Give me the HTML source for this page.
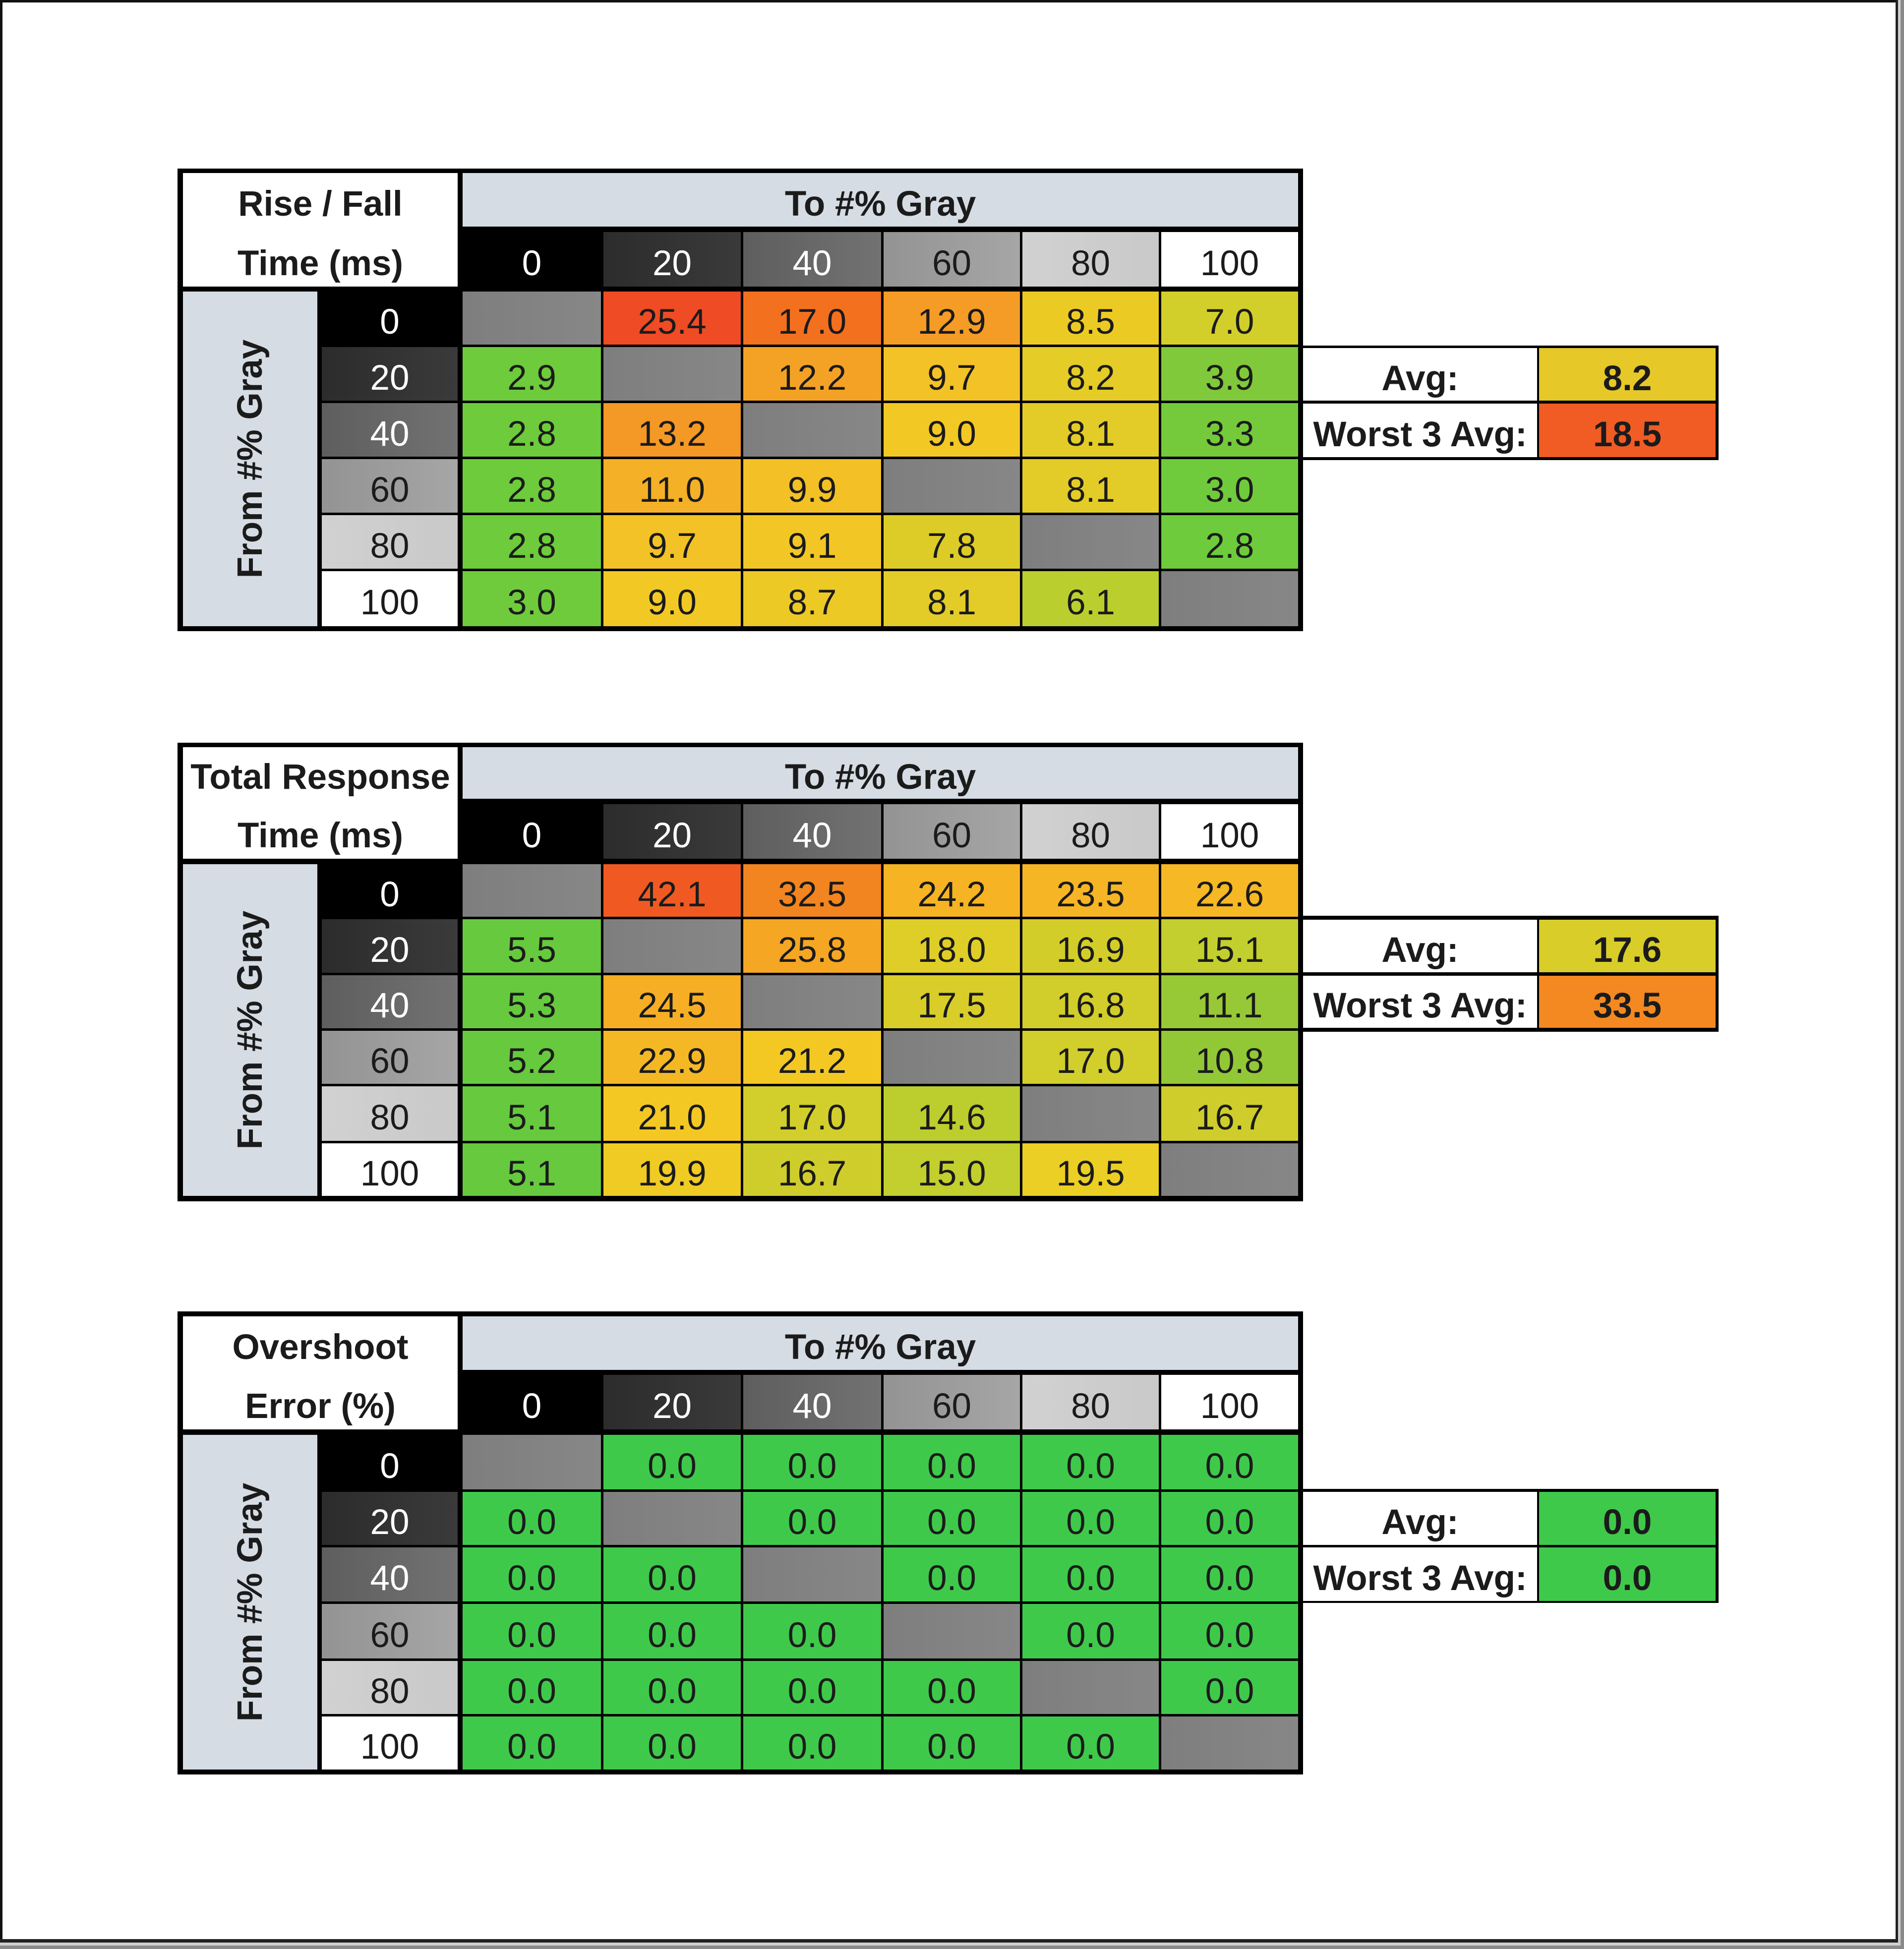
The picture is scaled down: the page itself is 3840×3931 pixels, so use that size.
<!DOCTYPE html>
<html><head><meta charset="utf-8">
<style>
html,body{margin:0;padding:0;}
body{width:3840px;height:3931px;position:relative;overflow:hidden;background:#fff;font-family:"Liberation Sans",Arial,sans-serif;}
.f{position:absolute;}
.t{position:absolute;left:358px;width:2270px;background:#000;}
.c{position:absolute;display:flex;align-items:center;justify-content:center;font-size:71px;color:#1b1b1b;padding-top:16px;box-sizing:border-box;white-space:nowrap;}
.b{font-weight:bold;}
.x0{left:575px;width:279px}.x1{left:859px;width:277px}.x2{left:1141px;width:278px}
.x3{left:1424px;width:275px}.x4{left:1704px;width:275px}.x5{left:1984px;width:276px}
.xl{left:11px;width:271px}.xn{left:291px;width:274px}.xh{left:11px;width:554px}.xt{left:575px;width:1685px}
.lb{background:#d6dce4;}
.wh{background:#fff;}
.k0{background:#000;color:#fff;}
.k20{background:linear-gradient(90deg,#2c2c2c,#3a3a3a);color:#fff;}
.k40{background:linear-gradient(90deg,#5e5e5e,#727272);color:#fff;}
.k60{background:linear-gradient(90deg,#939393,#a6a6a6);color:#1b1b1b;}
.k80{background:linear-gradient(90deg,#d1d1d1,#c9c9c9);color:#1b1b1b;}
.k100{background:#fff;color:#1b1b1b;}
.gr{background:linear-gradient(90deg,#7e7e7e,#878787);}
.vt{display:inline-block;transform:rotate(-90deg);font-weight:bold;font-size:71px;color:#1b1b1b;}
#t1{top:340px;height:933px}
#t1 .h1{top:9px;height:108px}#t1 .h2{top:128px;height:110px}#t1 .hl{top:9px;height:229px}
#t1 .r0{top:248px;height:107px}#t1 .r1{top:360px;height:108px}#t1 .r2{top:473px;height:108px}
#t1 .r3{top:586px;height:108px}#t1 .r4{top:699px;height:108px}#t1 .r5{top:812px;height:111px}
#t1 .rl{top:248px;height:675px}
#t2{top:1498px;height:925px}
#t2 .h1{top:9px;height:104px}#t2 .h2{top:124px;height:110px}#t2 .hl{top:9px;height:225px}
#t2 .r0{top:245px;height:106px}#t2 .r1{top:356px;height:108px}#t2 .r2{top:469px;height:107px}
#t2 .r3{top:581px;height:107px}#t2 .r4{top:693px;height:110px}#t2 .r5{top:808px;height:106px}
#t2 .rl{top:245px;height:669px}
#t3{top:2645px;height:934px}
#t3 .h1{top:10px;height:108px}#t3 .h2{top:128px;height:110px}#t3 .hl{top:10px;height:228px}
#t3 .r0{top:249px;height:110px}#t3 .r1{top:364px;height:107px}#t3 .r2{top:476px;height:109px}
#t3 .r3{top:590px;height:110px}#t3 .r4{top:705px;height:107px}#t3 .r5{top:817px;height:107px}
#t3 .rl{top:249px;height:675px}
.av{position:absolute;left:2618px;width:848px;background:#000;}
.al{left:10px;width:472px;}
.avv{left:486px;width:356px;}
.g3{background:#3fc94b;}
.lbl{padding-top:0;}
</style></head><body>

<!-- page frame -->
<div class="f" style="left:0;top:0;width:3828px;height:5px;background:#111"></div>
<div class="f" style="left:0;top:0;width:5px;height:3918px;background:#111"></div>
<div class="f" style="left:3823px;top:0;width:5px;height:3918px;background:#222"></div>
<div class="f" style="left:0;top:3911px;width:3828px;height:7px;background:#222"></div>
<div class="f" style="left:3828px;top:0;width:5px;height:3924px;background:#d0d0d0"></div>
<div class="f" style="left:0;top:3918px;width:3833px;height:6px;background:#d0d0d0"></div>
<div class="f" style="left:3833px;top:0;width:7px;height:3931px;background:#8a8a8a"></div>
<div class="f" style="left:0;top:3924px;width:3840px;height:7px;background:#8a8a8a"></div>

<!-- TABLE 1 -->
<div class="t" id="t1">
<div class="c xh hl wh"></div>
<div class="c xh h1 b">Rise / Fall</div>
<div class="c xh h2 b">Time (ms)</div>
<div class="c xt h1 lb b">To #% Gray</div>
<div class="c x0 h2 k0">0</div><div class="c x1 h2 k20">20</div><div class="c x2 h2 k40">40</div>
<div class="c x3 h2 k60">60</div><div class="c x4 h2 k80">80</div><div class="c x5 h2 k100">100</div>
<div class="c xl rl lb lbl"><span class="vt">From #% Gray</span></div>
<div class="c xn r0 k0">0</div><div class="c xn r1 k20">20</div><div class="c xn r2 k40">40</div>
<div class="c xn r3 k60">60</div><div class="c xn r4 k80">80</div><div class="c xn r5 k100">100</div>

<div class="c x0 r0 gr"></div>
<div class="c x1 r0" style="background:#ef4b24">25.4</div>
<div class="c x2 r0" style="background:#f3701f">17.0</div>
<div class="c x3 r0" style="background:#f49c26">12.9</div>
<div class="c x4 r0" style="background:#ecca24">8.5</div>
<div class="c x5 r0" style="background:#d3cf2a">7.0</div>

<div class="c x0 r1" style="background:#6dcb3c">2.9</div>
<div class="c x1 r1 gr"></div>
<div class="c x2 r1" style="background:#f4a226">12.2</div>
<div class="c x3 r1" style="background:#f3c226">9.7</div>
<div class="c x4 r1" style="background:#e5cc26">8.2</div>
<div class="c x5 r1" style="background:#80c93a">3.9</div>

<div class="c x0 r2" style="background:#6dcb3c">2.8</div>
<div class="c x1 r2" style="background:#f49826">13.2</div>
<div class="c x2 r2 gr"></div>
<div class="c x3 r2" style="background:#f2c825">9.0</div>
<div class="c x4 r2" style="background:#e3cc27">8.1</div>
<div class="c x5 r2" style="background:#74ca3b">3.3</div>

<div class="c x0 r3" style="background:#6dcb3c">2.8</div>
<div class="c x1 r3" style="background:#f4b026">11.0</div>
<div class="c x2 r3" style="background:#f3c026">9.9</div>
<div class="c x3 r3 gr"></div>
<div class="c x4 r3" style="background:#e3cc27">8.1</div>
<div class="c x5 r3" style="background:#6fcb3c">3.0</div>

<div class="c x0 r4" style="background:#6dcb3c">2.8</div>
<div class="c x1 r4" style="background:#f3c226">9.7</div>
<div class="c x2 r4" style="background:#f2c725">9.1</div>
<div class="c x3 r4" style="background:#ddcc28">7.8</div>
<div class="c x4 r4 gr"></div>
<div class="c x5 r4" style="background:#6dcb3c">2.8</div>

<div class="c x0 r5" style="background:#6fcb3c">3.0</div>
<div class="c x1 r5" style="background:#f2c825">9.0</div>
<div class="c x2 r5" style="background:#ecc925">8.7</div>
<div class="c x3 r5" style="background:#e3cc27">8.1</div>
<div class="c x4 r5" style="background:#bacf2e">6.1</div>
<div class="c x5 r5 gr"></div>
</div>

<div class="av" style="top:697px;height:231px">
<div class="c al b wh" style="top:5px;height:106px">Avg:</div>
<div class="c avv b" style="top:5px;height:106px;background:#e6c828">8.2</div>
<div class="c al b wh" style="top:117px;height:108px">Worst 3 Avg:</div>
<div class="c avv b" style="top:117px;height:108px;background:#f05c23">18.5</div>
</div>

<!-- TABLE 2 -->
<div class="t" id="t2">
<div class="c xh hl wh"></div>
<div class="c xh h1 b">Total Response</div>
<div class="c xh h2 b">Time (ms)</div>
<div class="c xt h1 lb b">To #% Gray</div>
<div class="c x0 h2 k0">0</div><div class="c x1 h2 k20">20</div><div class="c x2 h2 k40">40</div>
<div class="c x3 h2 k60">60</div><div class="c x4 h2 k80">80</div><div class="c x5 h2 k100">100</div>
<div class="c xl rl lb lbl"><span class="vt">From #% Gray</span></div>
<div class="c xn r0 k0">0</div><div class="c xn r1 k20">20</div><div class="c xn r2 k40">40</div>
<div class="c xn r3 k60">60</div><div class="c xn r4 k80">80</div><div class="c xn r5 k100">100</div>

<div class="c x0 r0 gr"></div>
<div class="c x1 r0" style="background:#f05a22">42.1</div>
<div class="c x2 r0" style="background:#f2851f">32.5</div>
<div class="c x3 r0" style="background:#f6b323">24.2</div>
<div class="c x4 r0" style="background:#f6b524">23.5</div>
<div class="c x5 r0" style="background:#f6b824">22.6</div>

<div class="c x0 r1" style="background:#66c93e">5.5</div>
<div class="c x1 r1 gr"></div>
<div class="c x2 r1" style="background:#f5a623">25.8</div>
<div class="c x3 r1" style="background:#e0ce28">18.0</div>
<div class="c x4 r1" style="background:#d3cd2a">16.9</div>
<div class="c x5 r1" style="background:#c3cf2e">15.1</div>

<div class="c x0 r2" style="background:#66c93e">5.3</div>
<div class="c x1 r2" style="background:#f6ae24">24.5</div>
<div class="c x2 r2 gr"></div>
<div class="c x3 r2" style="background:#d9cd29">17.5</div>
<div class="c x4 r2" style="background:#d1cd2b">16.8</div>
<div class="c x5 r2" style="background:#97c835">11.1</div>

<div class="c x0 r3" style="background:#66c93e">5.2</div>
<div class="c x1 r3" style="background:#f5b825">22.9</div>
<div class="c x2 r3" style="background:#f4c823">21.2</div>
<div class="c x3 r3 gr"></div>
<div class="c x4 r3" style="background:#d2ce2c">17.0</div>
<div class="c x5 r3" style="background:#92c836">10.8</div>

<div class="c x0 r4" style="background:#66c93e">5.1</div>
<div class="c x1 r4" style="background:#f4c823">21.0</div>
<div class="c x2 r4" style="background:#d2ce2c">17.0</div>
<div class="c x3 r4" style="background:#bccd2e">14.6</div>
<div class="c x4 r4 gr"></div>
<div class="c x5 r4" style="background:#cfcd2b">16.7</div>

<div class="c x0 r5" style="background:#66c93e">5.1</div>
<div class="c x1 r5" style="background:#efcb24">19.9</div>
<div class="c x2 r5" style="background:#cfcd2b">16.7</div>
<div class="c x3 r5" style="background:#c2cf2e">15.0</div>
<div class="c x4 r5" style="background:#ebcf24">19.5</div>
<div class="c x5 r5 gr"></div>
</div>

<div class="av" style="top:1847px;height:234px">
<div class="c al b wh" style="top:8px;height:106px">Avg:</div>
<div class="c avv b" style="top:8px;height:106px;background:#d8cd29">17.6</div>
<div class="c al b wh" style="top:121px;height:105px">Worst 3 Avg:</div>
<div class="c avv b" style="top:121px;height:105px;background:#f38920">33.5</div>
</div>

<!-- TABLE 3 -->
<div class="t" id="t3">
<div class="c xh hl wh"></div>
<div class="c xh h1 b">Overshoot</div>
<div class="c xh h2 b">Error (%)</div>
<div class="c xt h1 lb b">To #% Gray</div>
<div class="c x0 h2 k0">0</div><div class="c x1 h2 k20">20</div><div class="c x2 h2 k40">40</div>
<div class="c x3 h2 k60">60</div><div class="c x4 h2 k80">80</div><div class="c x5 h2 k100">100</div>
<div class="c xl rl lb lbl"><span class="vt">From #% Gray</span></div>
<div class="c xn r0 k0">0</div><div class="c xn r1 k20">20</div><div class="c xn r2 k40">40</div>
<div class="c xn r3 k60">60</div><div class="c xn r4 k80">80</div><div class="c xn r5 k100">100</div>

<div class="c x0 r0 gr"></div>
<div class="c x1 r0 g3">0.0</div><div class="c x2 r0 g3">0.0</div><div class="c x3 r0 g3">0.0</div><div class="c x4 r0 g3">0.0</div><div class="c x5 r0 g3">0.0</div>

<div class="c x0 r1 g3">0.0</div><div class="c x1 r1 gr"></div>
<div class="c x2 r1 g3">0.0</div><div class="c x3 r1 g3">0.0</div><div class="c x4 r1 g3">0.0</div><div class="c x5 r1 g3">0.0</div>

<div class="c x0 r2 g3">0.0</div><div class="c x1 r2 g3">0.0</div><div class="c x2 r2 gr"></div>
<div class="c x3 r2 g3">0.0</div><div class="c x4 r2 g3">0.0</div><div class="c x5 r2 g3">0.0</div>

<div class="c x0 r3 g3">0.0</div><div class="c x1 r3 g3">0.0</div><div class="c x2 r3 g3">0.0</div>
<div class="c x3 r3 gr"></div><div class="c x4 r3 g3">0.0</div><div class="c x5 r3 g3">0.0</div>

<div class="c x0 r4 g3">0.0</div><div class="c x1 r4 g3">0.0</div><div class="c x2 r4 g3">0.0</div>
<div class="c x3 r4 g3">0.0</div><div class="c x4 r4 gr"></div><div class="c x5 r4 g3">0.0</div>

<div class="c x0 r5 g3">0.0</div><div class="c x1 r5 g3">0.0</div><div class="c x2 r5 g3">0.0</div>
<div class="c x3 r5 g3">0.0</div><div class="c x4 r5 g3">0.0</div><div class="c x5 r5 gr"></div>
</div>

<div class="av" style="top:3003px;height:230px">
<div class="c al b wh" style="top:6px;height:107px">Avg:</div>
<div class="c avv b g3" style="top:6px;height:107px">0.0</div>
<div class="c al b wh" style="top:118px;height:108px">Worst 3 Avg:</div>
<div class="c avv b g3" style="top:118px;height:108px">0.0</div>
</div>

</body></html>
